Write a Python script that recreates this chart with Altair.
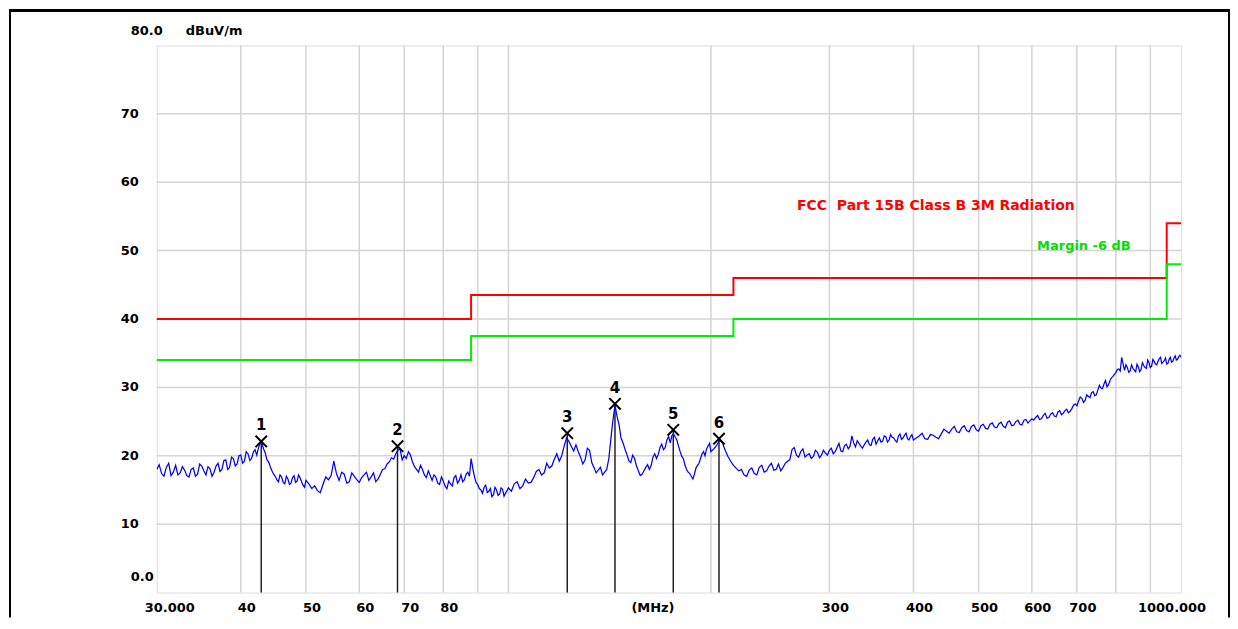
import altair as alt
import pandas as pd

# ---------------- data ----------------
FREQ_A = [30.0, 30.5, 31.0, 31.5, 32.0, 32.5, 33.0, 33.5, 34.0, 34.5,
          35.0, 35.5, 36.0, 36.5, 37.0, 37.5, 38.0, 38.5, 39.0, 39.5,
          40.0, 40.5, 41.0, 41.5, 42.0, 42.5, 43.0, 43.5, 44.0, 44.5,
          45.0, 45.5, 46.0, 46.5, 47.0, 47.5, 48.0, 48.5, 49.0, 49.5, 50.0]
LEVEL_A = [18.0, 17.4, 18.3, 17.1, 18.6, 17.5, 17.9, 16.9, 18.2, 17.3,
           18.5, 17.2, 18.1, 17.6, 18.9, 18.0, 19.4, 18.3, 19.6, 18.8,
           20.1, 19.2, 20.3, 19.6, 20.9, 21.2, 21.8, 20.4, 19.1, 17.8,
           17.0, 16.2, 16.9, 15.9, 16.6, 16.0, 17.1, 16.3, 16.8, 15.7, 16.4]
FREQ_A2 = [30.25, 30.75, 31.25, 31.75, 32.25, 32.75, 33.25, 33.75, 34.25, 34.75,
           35.25, 35.75, 36.25, 36.75, 37.25, 37.75, 38.25, 38.75, 39.25, 39.75,
           40.25, 40.75, 41.25, 41.75, 42.25, 42.75, 43.25, 43.75, 44.25, 44.75,
           45.25, 45.75, 46.25, 46.75, 47.25, 47.75, 48.25, 48.75, 49.25, 49.75]
LEVEL_A2 = [18.7, 17.0, 18.9, 17.6, 17.2, 18.4, 17.1, 18.0, 17.0, 18.8,
            17.8, 18.4, 17.0, 18.5, 17.7, 19.3, 18.0, 19.8, 18.5, 20.0,
            18.9, 20.6, 19.3, 20.5, 20.1, 21.9, 21.0, 19.4, 18.4, 17.3,
            16.5, 17.2, 16.1, 17.0, 15.8, 16.8, 16.1, 17.2, 16.2, 15.4]

FREQ_B = [51, 52, 53, 54, 55, 56, 57, 58, 59, 60,
          61, 62, 63, 64, 65, 66, 67, 68, 69, 70,
          71, 72, 73, 74, 75, 76, 77, 78, 79, 80,
          81, 82, 83, 84, 85, 86, 87, 88, 89, 90,
          91, 92, 93, 94, 95, 96, 97, 98, 99, 100]
LEVEL_B = [15.2, 14.9, 15.8, 16.5, 19.2, 16.4, 17.3, 16.2, 17.0, 16.1,
           17.2, 16.4, 17.5, 16.6, 18.0, 18.8, 19.7, 20.3, 21.0, 20.0,
           20.6, 19.1, 18.0, 18.6, 17.2, 17.8, 16.4, 16.9, 15.8, 16.3,
           15.2, 15.9, 16.8, 16.0, 17.2, 16.5, 17.6, 19.6, 17.0, 15.8,
           15.0, 15.4, 14.6, 15.2, 14.3, 15.0, 14.4, 15.1, 14.5, 15.3]
FREQ_B2 = [50.5, 51.5, 52.5, 53.5, 54.5, 55.5, 56.5, 57.5, 58.5, 59.5,
           60.5, 61.5, 62.5, 63.5, 64.5, 65.5, 66.5, 67.5, 68.5, 69.5,
           70.5, 71.5, 72.5, 73.5, 74.5, 75.5, 76.5, 77.5, 78.5, 79.5,
           80.5, 81.5, 82.5, 83.5, 84.5, 85.5, 86.5, 87.5, 88.5, 89.5,
           90.5, 91.5, 92.5, 93.5, 94.5, 95.5, 96.5, 97.5, 98.5, 99.5]
LEVEL_B2 = [15.9, 15.6, 14.6, 16.9, 17.1, 17.4, 17.6, 16.0, 17.5, 16.5,
            16.8, 17.6, 16.9, 16.2, 17.3, 18.1, 19.1, 19.5, 20.8, 19.4,
            19.6, 20.1, 18.4, 17.6, 18.0, 16.8, 17.1, 17.2, 16.0, 16.9,
            15.6, 16.3, 15.6, 17.1, 16.4, 16.2, 17.3, 17.0, 18.2, 16.1,
            15.2, 14.5, 15.7, 14.8, 14.0, 15.4, 14.2, 15.3, 14.1, 14.9]

FREQ_C = [102, 104, 106, 108, 110, 112, 114, 116, 118, 120,
          122, 124, 126, 128, 130, 132, 134, 136, 138, 140,
          142, 144, 146, 148, 150, 152, 154, 156, 158, 160,
          162, 164, 166, 168, 170, 172, 174, 176, 178, 180,
          182, 184, 186, 188, 190, 192, 194, 196, 198, 200]
LEVEL_C = [15.9, 15.2, 16.6, 16.1, 17.7, 17.2, 18.9, 18.5, 20.3, 20.0,
           22.6, 21.4, 21.6, 19.8, 19.4, 20.8, 18.3, 17.9, 17.2, 18.0,
           22.5, 27.4, 24.6, 21.9, 20.2, 19.0, 19.6, 17.8, 17.3, 18.3,
           18.0, 19.8, 19.6, 21.2, 20.9, 22.3, 21.9, 23.2, 22.3, 20.6,
           19.6, 18.0, 17.4, 16.6, 18.2, 18.9, 20.3, 20.0, 21.4, 20.6]
FREQ_C2 = [101, 103, 105, 107, 109, 111, 113, 115, 117, 119,
           121, 123, 125, 127, 129, 131, 133, 135, 137, 139,
           141, 143, 145, 147, 149, 151, 153, 155, 157, 159,
           161, 163, 165, 167, 169, 171, 173, 175, 177, 179,
           181, 183, 185, 187, 189, 191, 193, 195, 197, 199]
LEVEL_C2 = [14.8, 16.2, 15.6, 16.0, 16.8, 18.0, 17.5, 18.2, 19.5, 19.2,
            21.4, 22.1, 20.7, 20.6, 18.8, 21.1, 19.0, 17.5, 18.3, 17.6,
            19.6, 25.2, 25.8, 22.6, 21.0, 19.3, 20.1, 18.5, 17.1, 17.8,
            18.7, 18.6, 20.3, 20.2, 21.7, 21.2, 22.8, 23.0, 22.7, 21.4,
            19.9, 18.6, 17.6, 17.0, 17.3, 18.6, 19.6, 20.6, 21.0, 21.8]

FREQ_D = [204, 208, 212, 216, 220, 224, 228, 232, 236, 240,
          244, 248, 252, 256, 260, 264, 268, 272, 276, 280,
          284, 288, 292, 296, 300, 304, 308, 312, 316, 320,
          324, 328, 332, 336, 340, 344, 348, 352, 356, 360,
          364, 368, 372, 376, 380, 384, 388, 392, 396, 400]
LEVEL_D = [21.5, 21.9, 19.9, 18.6, 17.8, 17.2, 17.9, 17.4, 18.3, 17.6,
           18.5, 17.9, 18.8, 18.3, 19.2, 20.9, 20.1, 20.6, 19.8, 20.3,
           19.9, 20.5, 20.1, 20.4, 20.8, 20.3, 21.2, 20.7, 21.5, 21.0,
           22.9, 21.3, 21.8, 21.1, 22.0, 21.6, 22.4, 21.7, 22.6, 22.1,
           22.8, 22.3, 22.7, 22.2, 22.9, 22.4, 23.0, 22.5, 22.8, 22.3]
FREQ_D2 = [202, 206, 210, 214, 218, 222, 226, 230, 234, 238,
           242, 246, 250, 254, 258, 262, 266, 270, 274, 278,
           282, 286, 290, 294, 298, 302, 306, 310, 314, 318,
           322, 326, 330, 334, 338, 342, 346, 350, 354, 358,
           362, 366, 370, 374, 378, 382, 386, 390, 394, 398]
LEVEL_D2 = [21.0, 22.3, 20.8, 19.2, 18.2, 18.0, 17.0, 18.2, 17.2, 18.6,
            17.8, 18.9, 18.0, 17.8, 18.9, 19.4, 21.2, 19.8, 21.0, 20.1,
            19.6, 20.8, 19.7, 20.8, 20.1, 21.1, 20.6, 21.8, 20.6, 21.7,
            21.4, 21.9, 22.2, 21.4, 21.6, 22.3, 21.5, 22.7, 22.2, 22.0,
            22.9, 22.0, 23.1, 22.6, 22.0, 23.2, 22.6, 23.3, 22.3, 23.1]

FREQ_E = [408, 416, 424, 432, 440, 448, 456, 464, 472, 480,
          488, 496, 504, 512, 520, 528, 536, 544, 552, 560,
          568, 576, 584, 592, 600, 608, 616, 624, 632, 640,
          648, 656, 664, 672, 680, 688, 696, 704, 712, 720,
          728, 736, 744, 752, 760, 768, 776, 784, 792, 800,
          808, 816, 824, 832, 840, 848, 856, 864, 872, 880,
          888, 896, 904, 912, 920, 928, 936, 944, 952, 960,
          968, 976, 984, 992, 1000]
LEVEL_E = [22.9, 22.5, 23.1, 22.7, 23.2, 23.6, 23.9, 23.5, 24.1, 23.7,
           24.3, 23.8, 24.4, 24.0, 24.6, 24.2, 24.7, 24.3, 24.9, 24.4,
           25.0, 24.6, 25.2, 24.8, 25.4, 25.6, 25.3, 25.9, 25.5, 26.1,
           25.8, 26.4, 26.0, 26.6, 26.3, 26.9, 27.6, 28.0, 28.4, 28.1,
           28.7, 29.2, 28.8, 29.6, 29.9, 30.5, 30.1, 31.0, 31.6, 32.2,
           32.7, 34.4, 32.5, 32.9, 32.4, 32.8, 32.3, 33.0, 32.6, 33.2,
           32.8, 33.6, 33.1, 33.8, 33.3, 34.2, 33.5, 33.9, 33.4, 34.1,
           33.7, 34.3, 34.0, 34.5, 34.4]
FREQ_E2 = [404, 412, 420, 428, 436, 444, 452, 460, 468, 476,
           484, 492, 500, 508, 516, 524, 532, 540, 548, 556,
           564, 572, 580, 588, 596, 604, 612, 620, 628, 636,
           644, 652, 660, 668, 676, 684, 692, 700, 708, 716,
           724, 732, 740, 748, 756, 764, 772, 780, 788, 796,
           804, 812, 820, 828, 836, 844, 852, 860, 868, 876,
           884, 892, 900, 908, 916, 924, 932, 940, 948, 956,
           964, 972, 980, 988, 996]
LEVEL_E2 = [22.6, 23.3, 22.4, 23.0, 22.5, 23.9, 23.3, 24.3, 23.4, 24.4,
            23.5, 24.5, 23.6, 24.6, 23.9, 24.8, 24.1, 24.9, 24.1, 25.1,
            24.5, 25.2, 24.5, 25.3, 25.1, 25.2, 25.9, 25.4, 26.2, 25.6,
            26.3, 25.7, 26.6, 26.2, 26.8, 26.5, 27.4, 27.3, 28.6, 27.8,
            28.9, 28.5, 29.4, 28.9, 30.3, 29.8, 31.0, 30.4, 31.4, 31.9,
            32.6, 32.4, 33.4, 33.3, 32.2, 33.3, 32.5, 33.4, 32.3, 33.6,
            32.9, 34.0, 32.9, 34.1, 33.4, 33.8, 34.4, 33.7, 34.3, 33.5,
            34.4, 33.8, 34.6, 34.1, 34.7]

# limit lines (step after)
LIMIT_FREQ = [30, 88, 216, 952, 1000]
LIMIT_FCC = [40.0, 43.5, 46.0, 54.0, 54.0]
LIMIT_MARGIN = [34.0, 37.5, 40.0, 48.0, 48.0]

# peak markers
MARK_NO = ["1", "2", "3", "4", "5", "6"]
MARK_FREQ = [42.9, 68.4, 122.3, 144.0, 175.8, 205.6]
MARK_LEVEL = [22.1, 21.4, 23.3, 27.6, 23.8, 22.5]

# axis text / grid
Y_TICKS = [70, 60, 50, 40, 30, 20, 10]
X_GRID = [40, 50, 60, 70, 80, 90, 100, 200, 300, 400, 500, 600, 700, 800, 900]
X_TICK_FREQ = [40, 50, 60, 70, 80, 300, 400, 500, 600, 700]
X_TICK_TEXT = ["40", "50", "60", "70", "80", "300", "400", "500", "600", "700"]

# ---------------- tables ----------------
trace = pd.DataFrame({
    "freq": FREQ_A + FREQ_A2 + FREQ_B + FREQ_B2 + FREQ_C + FREQ_C2
            + FREQ_D + FREQ_D2 + FREQ_E + FREQ_E2,
    "level": LEVEL_A + LEVEL_A2 + LEVEL_B + LEVEL_B2 + LEVEL_C + LEVEL_C2
             + LEVEL_D + LEVEL_D2 + LEVEL_E + LEVEL_E2,
}).sort_values("freq").reset_index(drop=True)
limits = pd.DataFrame({"freq": LIMIT_FREQ, "fcc": LIMIT_FCC, "margin": LIMIT_MARGIN})
marks = pd.DataFrame({"no": MARK_NO, "freq": MARK_FREQ, "level": MARK_LEVEL})
yt = pd.DataFrame({"val": Y_TICKS, "lab": [str(v) for v in Y_TICKS]})
xt = pd.DataFrame({"freq": X_TICK_FREQ, "lab": X_TICK_TEXT})
xg = pd.DataFrame({"freq": X_GRID})
one = pd.DataFrame({"k": [0]})

W, H = 1026, 548
FONT = "DejaVu Sans"

xs = alt.Scale(type="log", domain=[30, 1000], nice=False)
ys = alt.Scale(domain=[0, 80], nice=False, zero=False)


def X(f="freq"):
    return alt.X(f"{f}:Q", scale=xs, axis=None)


def Y(f="level"):
    return alt.Y(f"{f}:Q", scale=ys, axis=None)


grid_x = alt.Chart(xg).mark_rule(color="#d4d4d4", strokeWidth=1.5).encode(
    x=X(), y=alt.value(0), y2=alt.value(H))
grid_y = alt.Chart(yt).mark_rule(color="#d4d4d4", strokeWidth=1.5).encode(
    y=Y("val"), x=alt.value(0), x2=alt.value(W))

line = alt.Chart(trace).mark_line(color="#0000ff", strokeWidth=1.25, clip=True).encode(
    x=X(), y=Y())

fcc = alt.Chart(limits).mark_line(color="#ff0000", strokeWidth=2, interpolate="step-after").encode(
    x=X(), y=Y("fcc"))
margin = alt.Chart(limits).mark_line(color="#00ee00", strokeWidth=2, interpolate="step-after").encode(
    x=X(), y=Y("margin"))

mark_rules = alt.Chart(marks).mark_rule(color="#222222", strokeWidth=1.5).encode(
    x=X(), y=Y(), y2=alt.datum(0))
mark_x = alt.Chart(marks).mark_point(
    shape="M-1,-1L1,1M-1,1L1,-1", size=130, filled=False, color="black", strokeWidth=2, opacity=1
).encode(x=X(), y=Y())
mark_no = alt.Chart(marks).mark_text(
    font=FONT, fontSize=15, fontWeight="bold", color="black", dy=-16, baseline="middle"
).encode(x=X(), y=Y(), text="no:N")

txt = dict(font=FONT, fontSize=13, fontWeight="bold", color="black", baseline="middle")

y_labels = alt.Chart(yt).mark_text(align="right", **txt).encode(
    x=alt.value(-18), y=Y("val"), text="lab:N")
y_zero = alt.Chart(one).mark_text(align="right", dy=-16, **txt).encode(
    x=alt.value(-3), y=alt.datum(0, scale=ys), text=alt.value("0.0"))
y_top = alt.Chart(one).mark_text(align="right", dy=-14, **txt).encode(
    x=alt.value(6), y=alt.datum(80, scale=ys), text=alt.value("80.0"))
y_unit = alt.Chart(one).mark_text(align="left", dy=-14, **txt).encode(
    x=alt.value(29), y=alt.datum(80, scale=ys), text=alt.value("dBuV/m"))

x_labels = alt.Chart(xt).mark_text(align="center", dx=6, **txt).encode(
    x=X(), y=alt.value(H + 15), text="lab:N")
x_first = alt.Chart(one).mark_text(align="center", dx=13, **txt).encode(
    x=alt.datum(30, scale=xs), y=alt.value(H + 15), text=alt.value("30.000"))
x_last = alt.Chart(one).mark_text(align="center", dx=-9, **txt).encode(
    x=alt.datum(1000, scale=xs), y=alt.value(H + 15), text=alt.value("1000.000"))
x_unit = alt.Chart(one).mark_text(align="center", **txt).encode(
    x=alt.datum(164, scale=xs), y=alt.value(H + 15), text=alt.value("(MHz)"))

fcc_label = alt.Chart(one).mark_text(
    font=FONT, fontSize=14, fontWeight="bold", color="#ff0000", align="center", baseline="middle"
).encode(x=alt.datum(432, scale=xs), y=alt.datum(56.5, scale=ys),
         text=alt.value("FCC\u00a0 Part 15B Class B 3M Radiation"))
margin_label = alt.Chart(one).mark_text(
    font=FONT, fontSize=13, fontWeight="bold", color="#00dd00", align="center", baseline="middle"
).encode(x=alt.datum(717, scale=xs), y=alt.datum(50.6, scale=ys),
         text=alt.value("Margin -6 dB"))

# outer black frame of the original screenshot
frame_left = alt.Chart(one).mark_rule(color="black", strokeWidth=2).encode(
    x=alt.value(-147), y=alt.value(-36), y2=alt.value(H + 25))
frame_top = alt.Chart(one).mark_rule(color="black", strokeWidth=3).encode(
    x=alt.value(-148), x2=alt.value(1075), y=alt.value(-35))
frame_right = alt.Chart(one).mark_rule(color="black", strokeWidth=2).encode(
    x=alt.value(1074), y=alt.value(-36), y2=alt.value(H + 25))

chart = alt.layer(
    grid_x, grid_y, fcc, margin, mark_rules, line, mark_x, mark_no,
    y_labels, y_zero, y_top, y_unit, x_labels, x_first, x_last, x_unit,
    fcc_label, margin_label, frame_left, frame_top, frame_right,
).properties(
    width=W, height=H,
    autosize=alt.AutoSizeParams(type="none"),
    padding={"left": 149, "top": 37, "right": 49, "bottom": 25},
).configure_view(
    stroke="#909090", strokeWidth=2
).configure(background="white")

chart.save("out.html", embed_options={"renderer": "svg", "actions": False})
